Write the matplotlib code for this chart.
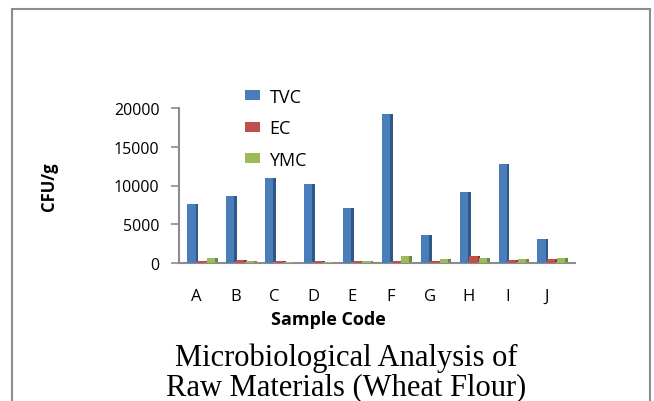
import numpy as np
import matplotlib
matplotlib.use("Agg")
import matplotlib.pyplot as plt
from matplotlib.patches import Rectangle

# data
samples = ['A', 'B', 'C', 'D', 'E', 'F', 'G', 'H', 'I', 'J']
tvc = [7650, 8650, 11000, 10150, 7100, 19250, 3650, 9150, 12750, 3100]
ec = [300, 400, 200, 200, 300, 200, 300, 900, 400, 500]
ymc = [700, 200, 100, 100, 300, 900, 500, 600, 500, 700]

series = [('TVC', tvc, '#4a7ebb', '#2f5888'),
          ('EC', ec, '#c0504d', '#8c3330'),
          ('YMC', ymc, '#9bbb59', '#6f8a3a')]

plt.rcParams['font.family'] = ['Open Sans', 'DejaVu Sans']

fig = plt.figure(figsize=(6.54, 4.02), dpi=100)
ax = fig.add_axes([179 / 654, 1 - 264 / 402, 396 / 654, 155 / 402])

# outer chart frame (bottom runs off the image)
fig.patches.append(Rectangle((12 / 654, -0.1), 638 / 654, 1.1 - 10 / 402,
                             transform=fig.transFigure, fill=False,
                             edgecolor='#8c8c8c', linewidth=1.5))

x = np.arange(len(samples))
w = 0.25
handles = []
for i, (name, vals, col, dark) in enumerate(series):
    pos = x + (i - 1) * w
    # darker side face for a bit of the 3d look
    ax.bar(pos + 0.05, vals, width=w, color=dark, zorder=2)
    b = ax.bar(pos, vals, width=w - 0.04, color=col, zorder=3, label=name)
    handles.append(b)

ax.set_xlim(-0.57, 9.61)
ax.set_ylim(0, 20000)
ax.set_yticks([0, 5000, 10000, 15000, 20000])
ax.set_xticks(x - 0.12)
ax.set_xticklabels(samples)

for s in ['top', 'right']:
    ax.spines[s].set_visible(False)
ax.spines['left'].set_color('#8c8c8c')
ax.spines['bottom'].set_color('#8c8c8c')
ax.spines['left'].set_linewidth(1.5)
ax.spines['bottom'].set_linewidth(1.5)
ax.tick_params(axis='y', length=6, width=1.2, color='#8c8c8c', labelsize=11.5, pad=8)
ax.tick_params(axis='x', length=0, labelsize=12, pad=18)

ax.set_ylabel('CFU/g', fontsize=12, fontweight='bold', labelpad=40)
fig.text(328 / 654, 1 - 320 / 402, 'Sample Code', ha='center', va='center',
         fontsize=13, fontweight='bold')

leg = fig.legend(handles=handles, loc='upper left', bbox_to_anchor=(0.35, 0.82),
                 frameon=False, fontsize=13, handlelength=0.85, handleheight=0.45,
                 labelspacing=0.75, handletextpad=0.5)
leg.set_zorder(5)

fig.text(0.53, 1 - 373 / 402, 'Microbiological Analysis of\nRaw Materials (Wheat Flour)',
         ha='center', va='center', fontsize=22, family='Liberation Serif',
         linespacing=0.98)

fig.savefig('out.png', dpi=100)
